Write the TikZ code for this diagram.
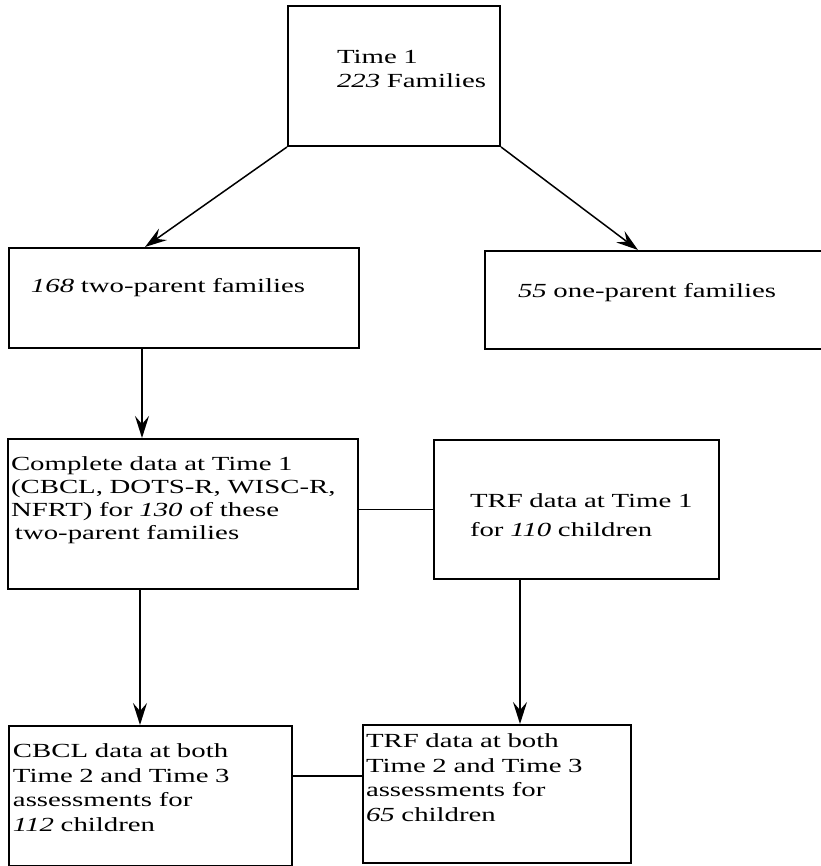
\documentclass[tikz,border=0pt]{standalone}
\usepackage{fontspec}
\setmainfont{Liberation Serif}[FakeStretch=1.44]
\usetikzlibrary{arrows.meta}

\begin{document}
\begin{tikzpicture}[
  x=1pt, y=1pt,
  box/.style={draw, line width=2pt, anchor=north west, align=left, inner sep=0pt, font=\fontsize{20pt}{24pt}\selectfont},
  pad/.style={execute at begin node={\leftskip=#1}},
  arr/.style={line width=1.5pt, -{Stealth[length=22pt, width=14pt, inset=8pt]}},
  link/.style={line width=1.5pt}
]
\useasboundingbox (0,0) rectangle (820,866);

\node[box, pad=49pt, text width=212pt, text height=58pt, text depth=82pt] (time) at (287,861) {Time 1\\\textit{223} Families};

\node[box, pad=22pt, text width=350pt, text height=45pt, text depth=55pt] (two) at (8,619) {\textit{168} two-parent families};
\node[box, pad=33pt, text width=356pt, text height=47pt, text depth=51pt] (one) at (484,616) {\textit{55} one-parent families};

\node[box, pad=3pt, text width=350pt, text height=32pt, text depth=118pt, font=\fontsize{20pt}{23pt}\selectfont] (complete) at (7,428) {Complete data at Time 1\\(CBCL, DOTS-R, WISC-R,\\NFRT) for \textit{130} of these\\\hspace*{4pt}two-parent families};
\node[box, pad=36pt, text width=285pt, text height=68pt, text depth=71pt, font=\fontsize{20pt}{29pt}\selectfont] (trf) at (433,427) {TRF data at Time 1\\for \textit{110} children};

\node[box, pad=4pt, text width=283pt, text height=32pt, text depth=108pt, font=\fontsize{20pt}{24.5pt}\selectfont] (cbcl) at (8,141) {CBCL data at both\\Time 2 and Time 3\\assessments for\\\textit{112} children};
\node[box, pad=3pt, text width=268pt, text height=23pt, text depth=115pt, font=\fontsize{20pt}{24.5pt}\selectfont] (trftwo) at (362,142) {TRF data at both\\Time 2 and Time 3\\assessments for\\\textit{65} children};

\draw[arr] (time.south west) -- ([xshift=137pt]two.north west);
\draw[arr] (time.south east) -- ([xshift=154pt]one.north west);
\draw[arr] ([xshift=134pt]two.south west) -- ([xshift=135pt]complete.north west);
\draw[arr] ([xshift=133pt]complete.south west) -- ([xshift=132pt]cbcl.north west);
\draw[arr] ([xshift=87pt]trf.south west) -- ([xshift=158pt]trftwo.north west);

\draw[link] (trf.west -| complete.east) -- (trf.west);
\draw[link] ([yshift=-52pt]trftwo.north west -| cbcl.east) -- ([yshift=-52pt]trftwo.north west);
\end{tikzpicture}
\end{document}
